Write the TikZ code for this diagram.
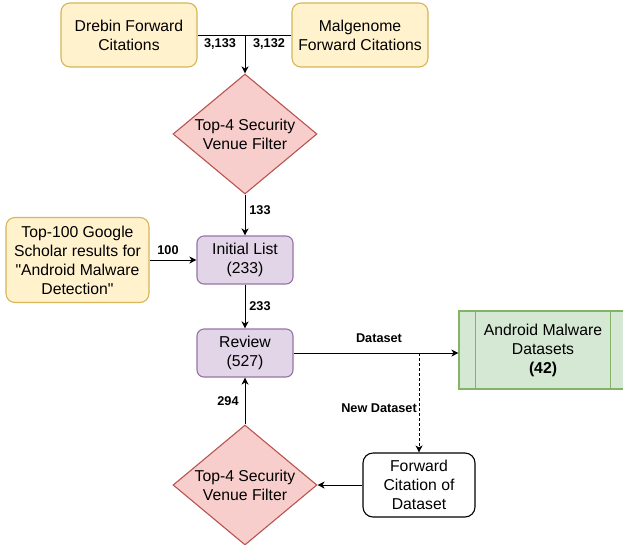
\documentclass[tikz,border=0pt]{standalone}
\usepackage{fontspec}
\setmainfont{Liberation Sans}
\newfontfamily\qfont{Liberation Sans}
\usetikzlibrary{shapes.geometric,arrows.meta,calc}
\definecolor{yfill}{HTML}{FFF2CC}\definecolor{ystroke}{HTML}{D6B656}
\definecolor{rfill}{HTML}{F8CECC}\definecolor{rstroke}{HTML}{B85450}
\definecolor{pfill}{HTML}{E1D5E7}\definecolor{pstroke}{HTML}{9673A6}
\definecolor{gfill}{HTML}{D5E8D4}\definecolor{gstroke}{HTML}{82B366}
\newcommand{\nfont}{\fontsize{15.75}{19}\selectfont}
\newcommand{\lfont}{\fontsize{12.7}{15}\selectfont\bfseries}
\begin{document}
\begin{tikzpicture}[x=1pt,y=-1pt,
  box/.style={draw, rounded corners=9pt, align=center, font=\nfont, inner sep=0pt, line width=1.1pt},
  ybox/.style={box, fill=yfill, draw=ystroke},
  pbox/.style={box, fill=pfill, draw=pstroke, rounded corners=7pt},
  wbox/.style={box, fill=white, draw=black, rounded corners=10pt},
  dia/.style={diamond, draw=rstroke, fill=rfill, inner sep=0pt, minimum width=144pt, minimum height=120pt, line width=1.1pt},
  dtext/.style={align=center, font=\nfont, inner sep=0pt},
  gproc/.style={draw=gstroke, fill=gfill, align=center, font=\nfont, inner sep=0pt, line width=1.1pt, minimum width=168pt, minimum height=78pt},
  arr/.style={line width=1pt, -{Stealth[length=7pt,width=7pt,inset=2pt]}},
  plainline/.style={line width=1pt},
  dasharrow/.style={line width=0.8pt, dash pattern=on 3pt off 2pt, -{Stealth[length=7pt,width=7pt,inset=2pt]}},
  lbl/.style={font=\lfont, inner sep=0pt},
]
\useasboundingbox (0,0) rectangle (623,544);

% nodes
\node[ybox, minimum width=136pt, minimum height=64pt] (drebin) at (129,35) {Drebin Forward\\Citations};
\node[ybox, minimum width=136pt, minimum height=64pt] (malg) at (360,35) {Malgenome\\Forward Citations};
\coordinate (junc) at (245,35);
\node[dia] (d1) at (245,134) {};
\node[dtext] (d1t) at (d1.center) {Top-4 Security\\Venue Filter};
\node[ybox, minimum width=143pt, minimum height=85pt] (g100) at (77.5,260) {Top-100 Google\\Scholar results for\\{\qfont"}Android Malware\\Detection{\qfont"}};
\node[pbox, minimum width=96pt, minimum height=48pt] (init) at (245,260) {Initial List\\(233)};
\node[pbox, minimum width=96pt, minimum height=48pt] (rev) at (245,353) {Review\\(527)};
\node[gproc] (ds) at (543,350) {Android Malware\\Datasets\\\textbf{(42)}};
\draw[gstroke, line width=1.1pt] ([xshift=17pt]ds.north west) -- ([xshift=17pt]ds.south west);
\draw[gstroke, line width=1.1pt] ([xshift=-17pt]ds.north east) -- ([xshift=-17pt]ds.south east);
\node[wbox, minimum width=112pt, minimum height=64pt] (fc) at (419,485) {Forward\\Citation of\\Dataset};
\node[dia] (d2) at (245,485) {};
\node[dtext] (d2t) at (d2.center) {Top-4 Security\\Venue Filter};
\coordinate (split) at (fc.north |- rev.east);

% connectors
\draw[plainline] (drebin.east) -- (junc);
\draw[plainline] (malg.west) -- (junc);
\draw[arr] (junc) -- (d1.north);
\node[lbl] (l3133) at (220,44) {3,133};
\node[lbl] (l3132) at (269,44) {3,132};
\draw[arr] (d1.south) -- (init.north);
\node[lbl] (l133) at (260,210) {133};
\draw[arr] (g100.east |- init.west) -- (init.west);
\node[lbl] (l100) at (168,250) {100};
\draw[arr] (init.south) -- (rev.north);
\node[lbl] (l233) at (260,306) {233};
\draw[arr] (rev.east) -- (rev.east -| ds.west);
\node[lbl] (ldata) at (379,338) {Dataset};
\draw[dasharrow] (split) -- (fc.north);
\node[lbl, anchor=east] (lnew) at (417,408) {New Dataset};
\draw[arr] (fc.west) -- (d2.east);
\draw[arr] (d2.north) -- (rev.south);
\node[lbl] (l294) at (228,401) {294};
\end{tikzpicture}
\end{document}
